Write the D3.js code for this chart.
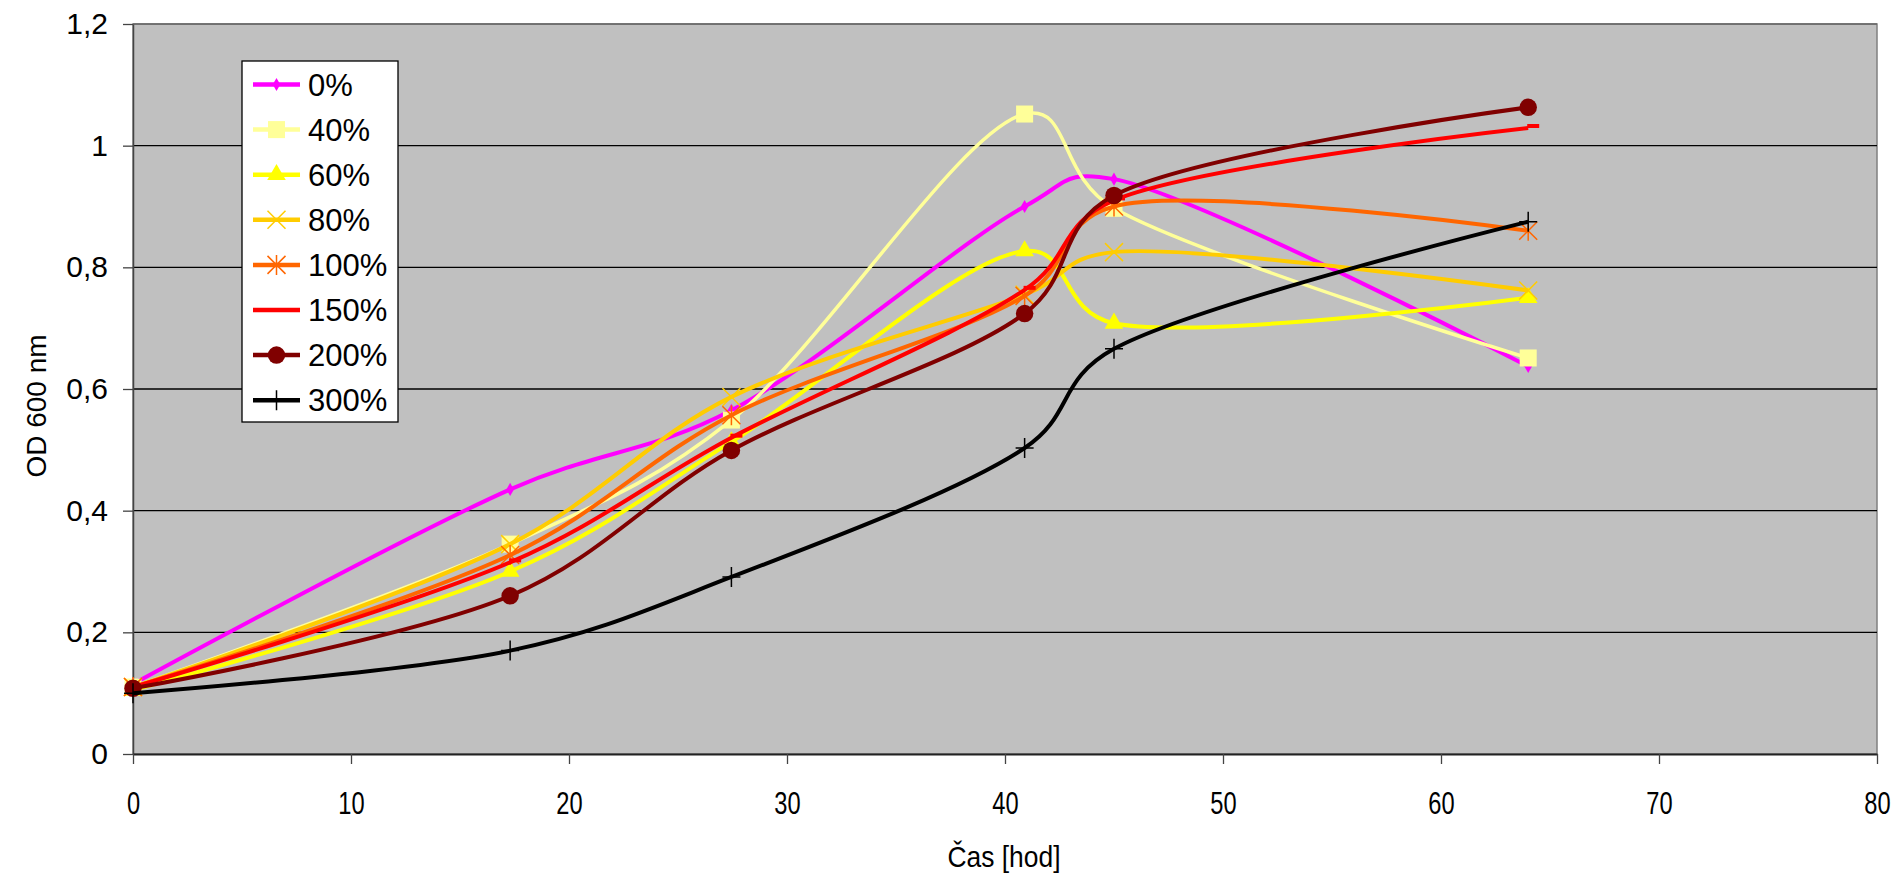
<!DOCTYPE html>
<html lang="cs">
<head>
<meta charset="UTF-8">
<title>OD 600 nm</title>
<script src="https://cdn.jsdelivr.net/npm/d3@7.8.5/dist/d3.min.js"></script>
<style>
    body{
        margin:0;
        background:#fff;
        font-family:"Liberation Sans", Arial, sans-serif;
    }
    svg{ display:block; }
</style>
</head>
<body>
<div id="chart"></div>
<script>
// time points [hod]
const times = [0, 17.3, 27.45, 40.9, 45, 64];

// OD 600 nm for each concentration
const od0   = [0.115, 0.435, 0.565, 0.900, 0.945, 0.637];
const od40  = [0.110, 0.345, 0.549, 1.052, 0.897, 0.651];
const od60  = [0.105, 0.300, 0.513, 0.827, 0.708, 0.750];
const od80  = [0.110, 0.345, 0.587, 0.755, 0.825, 0.762];
const od100 = [0.110, 0.327, 0.557, 0.753, 0.900, 0.860];
const od150 = [0.110, 0.315, 0.520, 0.763, 0.910, 1.029];
const od200 = [0.108, 0.260, 0.499, 0.724, 0.918, 1.063];
const od300 = [0.100, 0.170, 0.291, 0.503, 0.666, 0.875];

const seriesNames = ["0%", "40%", "60%", "80%", "100%", "150%", "200%", "300%"];
const xTicks = [0, 10, 20, 30, 40, 50, 60, 70, 80];
const yTicks = [0, 0.2, 0.4, 0.6, 0.8, 1, 1.2];

// look of each series (colour, marker)
const styles = [
    {color:"#FF00FF", marker:"diamond", width:4},
    {color:"#FFFF99", marker:"square", width:3.5},
    {color:"#FFFF00", marker:"triangle", width:4},
    {color:"#FFCC00", marker:"x", width:4},
    {color:"#FF6600", marker:"star", width:4},
    {color:"#FF0000", marker:"dash", width:4},
    {color:"#800000", marker:"circle", width:4},
    {color:"#000000", marker:"plus", width:4}
];

const allValues = [od0, od40, od60, od80, od100, od150, od200, od300];
const series = seriesNames.map((name, i) => ({
    name: name,
    style: styles[i],
    points: times.map((t, j) => ({t: t, v: allValues[i][j]}))
}));

const W = 1901, H = 873;
const plot = {left:133, top:24, right:1877, bottom:754};

const svg = d3.select("#chart").append("svg")
    .attr("width", W)
    .attr("height", H);

const x = d3.scaleLinear().domain([0, 80]).range([plot.left, plot.right]);
const y = d3.scaleLinear().domain([0, 1.2]).range([plot.bottom, plot.top]);

// plot area
svg.append("rect")
    .attr("x", plot.left).attr("y", plot.top)
    .attr("width", plot.right - plot.left)
    .attr("height", plot.bottom - plot.top)
    .attr("fill", "#C0C0C0")
    .attr("stroke", "#808080")
    .attr("stroke-width", 1.5);

// gridlines
svg.append("g")
    .selectAll("line")
    .data(yTicks.filter(d => d > 0))
    .enter()
    .append("line")
    .attr("x1", plot.left).attr("x2", plot.right)
    .attr("y1", d => y(d)).attr("y2", d => y(d))
    .attr("stroke", d => d === 1.2 ? "#666" : "#000")
    .attr("stroke-width", 1.3);

const fmt = d => String(d).replace(".", ",");

// Y axis
const yAxis = svg.append("g")
    .attr("transform", `translate(${plot.left},0)`)
    .call(d3.axisLeft(y).tickValues(yTicks).tickFormat(fmt).tickSize(10).tickSizeOuter(0).tickPadding(15));
yAxis.select(".domain").attr("stroke", "#444").attr("stroke-width", 1.5);
yAxis.selectAll(".tick line").attr("stroke", "#444").attr("stroke-width", 1.3);
yAxis.selectAll("text")
    .attr("font-family", "Liberation Sans, Arial, sans-serif")
    .attr("font-size", 30)
    .attr("fill", "#000");

// X axis
const xAxis = svg.append("g")
    .attr("transform", `translate(0,${plot.bottom})`)
    .call(d3.axisBottom(x).tickValues(xTicks).tickSize(10).tickSizeOuter(0));
xAxis.select(".domain").attr("stroke", "#222").attr("stroke-width", 2);
xAxis.selectAll(".tick line").attr("stroke", "#444").attr("stroke-width", 1.3);
xAxis.selectAll("text")
    .attr("font-family", "Liberation Sans, Arial, sans-serif")
    .attr("font-size", 32)
    .attr("fill", "#000")
    .attr("dy", null)
    .attr("y", 60)
    .attr("transform", "scale(0.74,1)");

// axis titles
svg.append("text")
    .attr("transform", `translate(1004,867) scale(0.88,1)`)
    .attr("text-anchor", "middle")
    .attr("font-size", 30)
    .text("Čas [hod]");

svg.append("text")
    .attr("transform", `translate(46,406) rotate(-90)`)
    .attr("text-anchor", "middle")
    .attr("font-size", 28)
    .text("OD 600 nm");

// marker drawing
function drawMarker(g, type, color, cx, cy){
    const m = g.append("g").attr("transform", `translate(${cx},${cy})`);
    if(type === "diamond"){
        m.append("path").attr("d", d3.symbol(d3.symbolDiamond, 50)()).attr("fill", color);
    } else if(type === "square"){
        m.append("path").attr("d", d3.symbol(d3.symbolSquare, 290)()).attr("fill", color);
    } else if(type === "triangle"){
        m.append("path").attr("d", d3.symbol(d3.symbolTriangle, 150)()).attr("fill", color);
    } else if(type === "circle"){
        m.append("path").attr("d", d3.symbol(d3.symbolCircle, 240)()).attr("fill", color);
    } else if(type === "x"){
        m.append("path").attr("d", "M-9,-9L9,9M-9,9L9,-9")
            .attr("stroke", color).attr("stroke-width", 1.5).attr("fill", "none");
    } else if(type === "star"){
        m.append("path").attr("d", "M-9,-9L9,9M-9,9L9,-9M0,-10L0,10")
            .attr("stroke", color).attr("stroke-width", 1.5).attr("fill", "none");
    } else if(type === "plus"){
        m.append("path").attr("d", "M-9,0L9,0M0,-10L0,10")
            .attr("stroke", color).attr("stroke-width", 1.5).attr("fill", "none");
    } else if(type === "dash"){
        m.append("path").attr("d", "M-1,-2L11,-2")
            .attr("stroke", color).attr("stroke-width", 4).attr("fill", "none");
    }
}

// smoothed lines
const line = d3.line()
    .x(d => x(d.t))
    .y(d => y(d.v))
    .curve(d3.curveCatmullRom.alpha(0.3));

series.forEach(s => {
    const g = svg.append("g");
    g.append("path")
        .datum(s.points)
        .attr("fill", "none")
        .attr("stroke", s.style.color)
        .attr("stroke-width", s.style.width)
        .attr("stroke-linejoin", "round")
        .attr("d", line);
    s.points.forEach(p => drawMarker(g, s.style.marker, s.style.color, x(p.t), y(p.v)));
});

// legend
const legend = svg.append("g");
legend.append("rect")
    .attr("x", 242).attr("y", 61)
    .attr("width", 156).attr("height", 361)
    .attr("fill", "#fff")
    .attr("stroke", "#000")
    .attr("stroke-width", 1.3);

series.forEach((s, i) => {
    const cy = 84.5 + i * 45.1;
    const row = legend.append("g");
    row.append("line")
        .attr("x1", 253).attr("x2", 300)
        .attr("y1", cy).attr("y2", cy)
        .attr("stroke", s.style.color)
        .attr("stroke-width", 4.5);
    if(s.style.marker !== "dash") drawMarker(row, s.style.marker, s.style.color, 276.5, cy);
    row.append("text")
        .attr("x", 308)
        .attr("y", cy + 11)
        .attr("font-size", 31)
        .text(s.name);
});
</script>
</body>
</html>
